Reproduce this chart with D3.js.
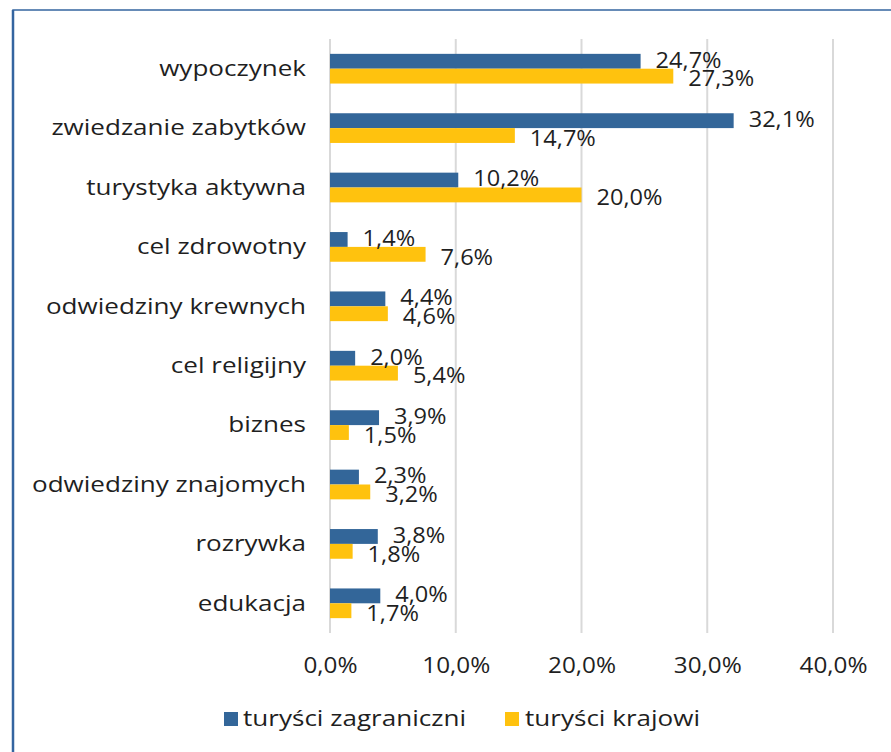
<!DOCTYPE html>
<html><head><meta charset="utf-8">
<script src="https://cdn.jsdelivr.net/npm/d3@7"></script>
<style>
html,body{margin:0;padding:0;background:#fff;}
svg{display:block;}
text{font-family:"Open Sans",sans-serif;fill:#1f1f1f;}
</style></head>
<body>
<svg id="chart" width="891" height="752"></svg>
<script>
const categories = ["wypoczynek","zwiedzanie zabytków","turystyka aktywna","cel zdrowotny","odwiedziny krewnych","cel religijny","biznes","odwiedziny znajomych","rozrywka","edukacja"];
const foreignValues = [24.7,32.1,10.2,1.4,4.4,2.0,3.9,2.3,3.8,4.0];
const domesticValues = [27.3,14.7,20.0,7.6,4.6,5.4,1.5,3.2,1.8,1.7];
const seriesNames = ["turyści zagraniczni","turyści krajowi"];
const tickValues = [0,10,20,30,40];

const colors = ["#336699","#ffc20e"];
const fmt = v => v.toFixed(1).replace(".", ",") + "%";
const FONT = "Open Sans";

const svg = d3.select("#chart");
const fsTick = 22.5;
const fsNum = 21;
const fsTxt = 21;

function measure(str, fs){
  const t = svg.append("text").attr("font-size",fs).attr("font-family",FONT).text(str);
  const w = t.node().getComputedTextLength(); t.remove(); return w;
}
const stretchTxt = 274 / measure("odwiedziny znajomych", fsTxt);
const stretchLeg = 223 / measure("turyści zagraniczni", fsTxt);
const stretchNum = 66 / measure("24,7%", fsNum);
const stretchTick = 68 / measure("40,0%", fsTick);
function widen(sel, k){
  sel.each(function(){
    const w = this.getComputedTextLength();
    d3.select(this).attr("textLength", w*k).attr("lengthAdjust","spacingAndGlyphs");
  });
}

// border
svg.append("path").attr("d","M13,760 L13,10 L900,10").attr("fill","none").attr("stroke","#3465a0").attr("stroke-width",1.5);
svg.append("line").attr("x1",13).attr("x2",13).attr("y1",10).attr("y2",760).attr("stroke","#3465a0").attr("stroke-width",2.5);

const x = d3.scaleLinear().domain([0,40]).range([330,833]);
const y = d3.scaleBand().domain(categories).range([39,633]).paddingInner(0.5).paddingOuter(0.25);
const sub = d3.scaleBand().domain([0,1]).range([0,y.bandwidth()]);

// gridlines
svg.append("g").selectAll("line").data(tickValues).join("line")
  .attr("x1",d=>x(d)).attr("x2",d=>x(d)).attr("y1",39).attr("y2",633)
  .attr("stroke","#d9d9d9").attr("stroke-width",2);

// x axis labels
const xAxis = d3.axisBottom(x).tickValues(tickValues).tickFormat(d=>fmt(d)).tickSize(0).tickPadding(0);
const gx = svg.append("g").attr("transform","translate(0,673)").call(xAxis);
gx.select(".domain").remove();
gx.selectAll("text").attr("dy",0).attr("font-size",fsTick).attr("fill","#1f1f1f").attr("font-family",FONT);
widen(gx.selectAll("text"), stretchTick);

// y axis labels
const yAxis = d3.axisLeft(y).tickSize(0).tickPadding(0);
const gy = svg.append("g").attr("transform","translate(306,0)").call(yAxis);
gy.select(".domain").remove();
gy.selectAll("text").attr("font-size",fsTxt).attr("fill","#1f1f1f").attr("font-family",FONT).attr("dy","0.35em");
widen(gy.selectAll("text"), stretchTxt);

const series = [foreignValues, domesticValues];
series.forEach((vals,si)=>{
  svg.append("g").selectAll("rect").data(vals).join("rect")
    .attr("x",x(0)).attr("y",(d,i)=>y(categories[i])+sub(si))
    .attr("width",d=>x(d)-x(0)).attr("height",sub.bandwidth())
    .attr("fill",colors[si]);
});
series.forEach((vals,si)=>{
  const t = svg.append("g").selectAll("text").data(vals).join("text")
    .attr("x",d=>x(d)+15)
    .attr("y",(d,i)=>y(categories[i])+sub(si)+sub.bandwidth()/2 + (si===0?-1:3))
    .attr("dy","0.35em").attr("font-size",fsNum)
    .text(d=>fmt(d));
  widen(t, stretchNum);
});

// legend
const leg = [{x:224,tx:243},{x:505,tx:525}];
leg.forEach((l,i)=>{
  svg.append("rect").attr("x",l.x).attr("y",712).attr("width",14).attr("height",14).attr("fill",colors[i]);
  const t = svg.append("text").attr("x",l.tx).attr("y",719).attr("dy","0.35em").attr("font-size",fsTxt).text(seriesNames[i]);
  widen(t, stretchLeg);
});
</script>
</body></html>
